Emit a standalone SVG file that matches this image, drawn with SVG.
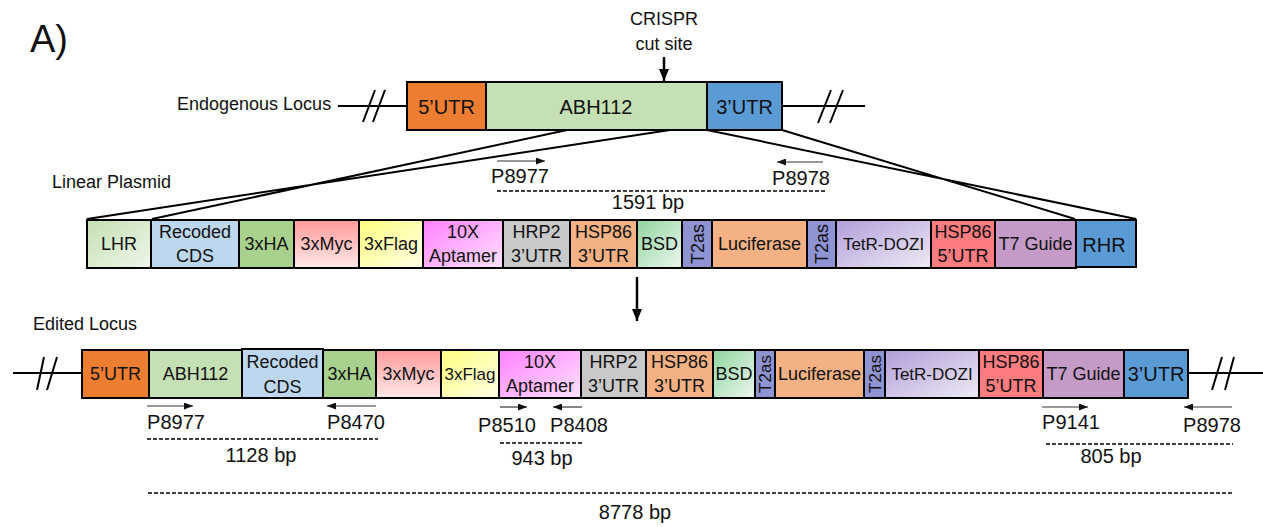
<svg xmlns="http://www.w3.org/2000/svg" width="1263" height="527" viewBox="0 0 1263 527">
<style>
text{font-family:"Liberation Sans",Arial,sans-serif;fill:#111;}
.b{stroke:#000;stroke-width:2;}
.t20{font-size:20px;text-anchor:middle;}
.t18{font-size:18px;text-anchor:middle;}
.t17{font-size:17px;text-anchor:middle;}
.lab{font-size:18px;}
.pr{font-size:20px;text-anchor:middle;}
.ln{stroke:#000;stroke-width:2;fill:none;}
.pa{stroke:#333;stroke-width:1.2;fill:none;marker-end:url(#sm);}
.da{stroke:#000;stroke-width:1.6;stroke-dasharray:4 2;fill:none;}
.big{stroke:#000;stroke-width:2.5;fill:none;marker-end:url(#bm);}
</style>
<defs>
<marker id="sm" markerUnits="userSpaceOnUse" markerWidth="9" markerHeight="7" refX="9" refY="3.5" orient="auto"><path d="M0,0 L9,3.5 L0,7 z" fill="#111"/></marker>
<marker id="bm" markerUnits="userSpaceOnUse" markerWidth="12" markerHeight="10" refX="12" refY="5" orient="auto"><path d="M0,0 L12,5 L0,10 z" fill="#000"/></marker>
<linearGradient id="gLHR" x1="0" y1="0" x2="1" y2="1"><stop offset="0" stop-color="#C5E0B4"/><stop offset="1" stop-color="#EEF6E9"/></linearGradient>
<linearGradient id="gMyc" x1="0" y1="0" x2="0" y2="1"><stop offset="0" stop-color="#FF9A9A"/><stop offset="1" stop-color="#FFE8E8"/></linearGradient>
<linearGradient id="gFlag" x1="0" y1="0" x2="1" y2="1"><stop offset="0" stop-color="#FFFF80"/><stop offset="1" stop-color="#FFFFE6"/></linearGradient>
<linearGradient id="gApt" x1="0" y1="0" x2="1" y2="1"><stop offset="0" stop-color="#FF80FF"/><stop offset="1" stop-color="#FFE3FF"/></linearGradient>
<linearGradient id="gBSD" x1="0" y1="0" x2="1" y2="1"><stop offset="0" stop-color="#8FD59E"/><stop offset="1" stop-color="#EDF7EE"/></linearGradient>
<linearGradient id="gTet" x1="0" y1="0" x2="1" y2="1"><stop offset="0" stop-color="#B29DD9"/><stop offset="1" stop-color="#EEEBF5"/></linearGradient>
</defs>
<rect width="1263" height="527" fill="#fff"/>

<text x="30" y="52" style="font-size:38px">A)</text>
<text x="177" y="110" class="lab">Endogenous Locus</text>
<text x="52" y="188" class="lab">Linear Plasmid</text>
<text x="33" y="330" class="lab">Edited Locus</text>
<text x="664" y="25" class="t18">CRISPR</text>
<text x="664" y="50" class="t18">cut site</text>

<g id="connectors">
<path class="big" d="M664,57 L664,81"/>
<path class="big" d="M637,277 L637,321"/>
<path class="ln" d="M338,106 L407,106 M363,122 L375,90 M373,122 L385,90"/>
<path class="ln" d="M782,106 L865,106 M818,123 L831,90 M830,123 L843,90"/>
<path class="ln" d="M13,373 L82,373 M37,390 L44,357 M47,390 L57,357"/>
<path class="ln" d="M1188,373 L1263,373 M1212,390 L1222,357 M1225,390 L1234,357"/>
<path class="ln" d="M567,130 L152,219 M670,130 L87,219 M707,130 L1136,219 M782,130 L1075,219"/>
<path class="pa" d="M497,161 L545,161"/>
<path class="pa" d="M823,162 L777,162"/>
<path class="da" d="M497,191 L826,191"/>
<path class="pa" d="M147,406 L193,406"/>
<path class="pa" d="M376,406 L327,406"/>
<path class="pa" d="M500,407 L527,407"/>
<path class="pa" d="M582,407 L553,407"/>
<path class="pa" d="M1042,407 L1088,407"/>
<path class="pa" d="M1232,407 L1184,407"/>
<path class="da" d="M147,439 L378,439"/>
<path class="da" d="M500,443 L584,443"/>
<path class="da" d="M1046,444 L1233,444"/>
<path class="da" d="M148,493 L1233,493"/>
</g>

<g id="primer-labels">
<text x="520" y="183" class="pr">P8977</text>
<text x="801" y="185" class="pr">P8978</text>
<text x="648" y="209" class="pr">1591 bp</text>
<text x="176" y="429" class="pr">P8977</text>
<text x="356" y="429" class="pr">P8470</text>
<text x="507" y="432" class="pr">P8510</text>
<text x="579" y="432" class="pr">P8408</text>
<text x="1071" y="429" class="pr">P9141</text>
<text x="1212" y="432" class="pr">P8978</text>
<text x="261" y="462" class="pr">1128 bp</text>
<text x="542" y="465" class="pr">943 bp</text>
<text x="1111" y="463" class="pr">805 bp</text>
<text x="635" y="519" class="pr">8778 bp</text>
</g>

<g id="endo-5utr"><rect class="b" x="407" y="82" width="79" height="48" fill="#ED7D31"/><text x="446.5" y="114" class="t20">5’UTR</text></g>
<g id="endo-abh112"><rect class="b" x="486" y="82" width="221" height="48" fill="#C5E0B4"/><text x="596" y="114" class="t20">ABH112</text></g>
<g id="endo-3utr"><rect class="b" x="707" y="82" width="75" height="48" fill="#5B9BD5"/><text x="744.5" y="114" class="t20">3’UTR</text></g>

<g id="pl-lhr"><rect class="b" x="87" y="220" width="64" height="48" fill="url(#gLHR)"/><text x="119" y="250" class="t18">LHR</text></g>
<g id="pl-cds"><rect class="b" x="151" y="220" width="88" height="48" fill="#BDD7EE"/><text x="195" y="238" class="t18">Recoded</text><text x="195" y="262" class="t18">CDS</text></g>
<g id="pl-ha"><rect class="b" x="239" y="220" width="55" height="48" fill="#A9D18E"/><text x="266.5" y="250" class="t18">3xHA</text></g>
<g id="pl-myc"><rect class="b" x="294" y="220" width="65" height="48" fill="url(#gMyc)"/><text x="326.5" y="250" class="t18">3xMyc</text></g>
<g id="pl-flag"><rect class="b" x="359" y="220" width="64" height="48" fill="url(#gFlag)"/><text x="391" y="250" class="t18">3xFlag</text></g>
<g id="pl-apt"><rect class="b" x="423" y="220" width="80" height="48" fill="url(#gApt)"/><text x="463" y="238" class="t18">10X</text><text x="463" y="262" class="t18">Aptamer</text></g>
<g id="pl-hrp2"><rect class="b" x="503" y="220" width="67" height="48" fill="#C9C9C9"/><text x="536.5" y="238" class="t18">HRP2</text><text x="536.5" y="262" class="t18">3’UTR</text></g>
<g id="pl-hsp3"><rect class="b" x="570" y="220" width="67" height="48" fill="#F4B183"/><text x="603.5" y="238" class="t18">HSP86</text><text x="603.5" y="262" class="t18">3’UTR</text></g>
<g id="pl-bsd"><rect class="b" x="637" y="220" width="45" height="48" fill="url(#gBSD)"/><text x="659.5" y="250" class="t18">BSD</text></g>
<g id="pl-t2a1"><rect class="b" x="682" y="220" width="30" height="48" fill="#8E93D1"/><text transform="translate(703.5,244) rotate(-90)" class="t18">T2as</text></g>
<g id="pl-luc"><rect class="b" x="712" y="220" width="95" height="48" fill="#F4B183"/><text x="759.5" y="250" class="t18">Luciferase</text></g>
<g id="pl-t2a2"><rect class="b" x="807" y="220" width="29" height="48" fill="#8E93D1"/><text transform="translate(828,244) rotate(-90)" class="t18">T2as</text></g>
<g id="pl-tetr"><rect class="b" x="836" y="220" width="95" height="48" fill="url(#gTet)"/><text x="883.5" y="250" class="t17">TetR-DOZI</text></g>
<g id="pl-hsp5"><rect class="b" x="931" y="220" width="64" height="48" fill="#FF7C80"/><text x="963" y="238" class="t18">HSP86</text><text x="963" y="262" class="t18">5’UTR</text></g>
<g id="pl-t7"><rect class="b" x="995" y="220" width="81" height="48" fill="#C39BC6"/><text x="1035.5" y="250" class="t18">T7 Guide</text></g>
<g id="pl-rhr"><rect class="b" x="1076" y="220" width="60" height="47" fill="#5B9BD5"/><text x="1104" y="252" class="t20">RHR</text></g>

<g id="ed-5utr"><rect class="b" x="82" y="350" width="67" height="48" fill="#ED7D31"/><text x="115.5" y="380" class="t18">5’UTR</text></g>
<g id="ed-abh112"><rect class="b" x="149" y="350" width="93" height="48" fill="#C5E0B4"/><text x="195.5" y="380" class="t18">ABH112</text></g>
<g id="ed-cds"><rect class="b" x="242" y="349" width="81" height="49" fill="#BDD7EE"/><text x="282.5" y="368" class="t18">Recoded</text><text x="282.5" y="393" class="t18">CDS</text></g>
<g id="ed-ha"><rect class="b" x="323" y="350" width="53" height="48" fill="#A9D18E"/><text x="349.5" y="380" class="t18">3xHA</text></g>
<g id="ed-myc"><rect class="b" x="376" y="350" width="65" height="48" fill="url(#gMyc)"/><text x="408.5" y="380" class="t18">3xMyc</text></g>
<g id="ed-flag"><rect class="b" x="441" y="350" width="58" height="48" fill="url(#gFlag)"/><text x="470" y="380" class="t17">3xFlag</text></g>
<g id="ed-apt"><rect class="b" x="499" y="350" width="82" height="48" fill="url(#gApt)"/><text x="540" y="368" class="t18">10X</text><text x="540" y="392" class="t18">Aptamer</text></g>
<g id="ed-hrp2"><rect class="b" x="581" y="350" width="65" height="48" fill="#C9C9C9"/><text x="613.5" y="368" class="t18">HRP2</text><text x="613.5" y="392" class="t18">3’UTR</text></g>
<g id="ed-hsp3"><rect class="b" x="646" y="350" width="67" height="48" fill="#F4B183"/><text x="679.5" y="368" class="t18">HSP86</text><text x="679.5" y="392" class="t18">3’UTR</text></g>
<g id="ed-bsd"><rect class="b" x="713" y="350" width="42" height="48" fill="url(#gBSD)"/><text x="734" y="380" class="t18">BSD</text></g>
<g id="ed-t2a1"><rect class="b" x="755" y="350" width="20" height="48" fill="#8E93D1"/><text transform="translate(771,374) rotate(-90)" class="t17">T2as</text></g>
<g id="ed-luc"><rect class="b" x="775" y="350" width="89" height="48" fill="#F4B183"/><text x="819.5" y="380" class="t18">Luciferase</text></g>
<g id="ed-t2a2"><rect class="b" x="864" y="350" width="21" height="48" fill="#8E93D1"/><text transform="translate(880.5,374) rotate(-90)" class="t17">T2as</text></g>
<g id="ed-tetr"><rect class="b" x="885" y="350" width="94" height="48" fill="url(#gTet)"/><text x="932" y="380" class="t17">TetR-DOZI</text></g>
<g id="ed-hsp5"><rect class="b" x="979" y="350" width="64" height="48" fill="#FF7C80"/><text x="1011" y="368" class="t18">HSP86</text><text x="1011" y="392" class="t18">5’UTR</text></g>
<g id="ed-t7"><rect class="b" x="1043" y="350" width="81" height="48" fill="#C39BC6"/><text x="1083.5" y="380" class="t18">T7 Guide</text></g>
<g id="ed-3utr"><rect class="b" x="1124" y="350" width="64" height="48" fill="#5B9BD5"/><text x="1156" y="381" class="t20">3’UTR</text></g>
</svg>
